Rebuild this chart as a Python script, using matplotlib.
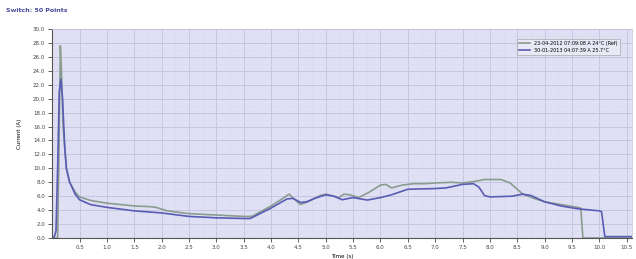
import matplotlib.pyplot as plt
from matplotlib.ticker import MultipleLocator

# reference curve (older measurement)
ref_t = [0.0, 0.10, 0.12, 0.15, 0.17, 0.20, 0.26, 0.32, 0.42, 0.5, 0.7, 1.0, 1.5, 1.8, 1.9,
         2.1, 2.5, 3.0, 3.5, 3.65, 4.0, 4.2, 4.33, 4.45, 4.54, 4.7, 4.9, 5.0, 5.24, 5.33,
         5.45, 5.6, 5.8, 6.0, 6.1, 6.2, 6.4, 6.6, 6.8, 7.0, 7.3, 7.5, 7.7, 7.9, 8.2, 8.37,
         8.5, 8.6, 8.8, 9.0, 9.3, 9.6, 9.66, 9.70, 10.6]
ref_v = [0.0, 0.0, 10.0, 27.6, 24.0, 16.0, 10.0, 8.0, 6.6, 5.9, 5.4, 5.0, 4.6, 4.5, 4.4,
         3.9, 3.5, 3.3, 3.1, 3.1, 4.6, 5.6, 6.3, 5.4, 4.8, 5.3, 6.1, 6.3, 5.8, 6.3,
         6.2, 5.8, 6.6, 7.6, 7.7, 7.2, 7.6, 7.8, 7.8, 7.9, 8.0, 7.9, 8.1, 8.4, 8.4, 7.9,
         7.0, 6.3, 5.7, 5.2, 4.8, 4.4, 4.3, 0.0, 0.0]

# newer measurement
new_t = [0.0, 0.04, 0.07, 0.10, 0.13, 0.16, 0.19, 0.23, 0.26, 0.32, 0.42, 0.5, 0.7, 1.0,
         1.5, 2.0, 2.5, 3.0, 3.5, 3.62, 4.0, 4.29, 4.4, 4.54, 4.65, 4.8, 5.0, 5.15, 5.3,
         5.5, 5.76, 6.0, 6.2, 6.5, 7.0, 7.2, 7.5, 7.7, 7.8, 7.9, 8.0, 8.4, 8.6, 8.75,
         9.0, 9.3, 9.6, 10.0, 10.04, 10.1, 10.6]
new_v = [0.0, 0.2, 1.0, 10.0, 21.0, 22.8, 20.0, 13.0, 10.0, 8.0, 6.3, 5.5, 4.8, 4.4,
         3.9, 3.6, 3.1, 2.9, 2.8, 2.8, 4.3, 5.6, 5.7, 5.1, 5.2, 5.7, 6.2, 6.0, 5.5,
         5.8, 5.45, 5.8, 6.2, 7.0, 7.1, 7.2, 7.7, 7.8, 7.3, 6.1, 5.9, 6.0, 6.3, 6.1,
         5.2, 4.6, 4.2, 3.9, 3.8, 0.2, 0.2]

labels = ["23-04-2012 07:09:08 A 24°C (Ref)", "30-01-2013 04:07:39 A 25.7°C"]

fig = plt.figure(figsize=(6.36, 2.59), dpi=100)
ax = fig.add_axes([0.082, 0.081, 0.912, 0.807])
ax.set_facecolor("#e0e0f5")

ax.plot(ref_t, ref_v, color="#8a9c8e", lw=1.2, label=labels[0])
ax.plot(new_t, new_v, color="#5a5cb4", lw=1.2, label=labels[1])

ax.set_xlim(0, 10.6)
ax.set_ylim(0, 30)
ax.xaxis.set_minor_locator(MultipleLocator(0.25))
ax.yaxis.set_minor_locator(MultipleLocator(1))
ax.set_xticks([x / 2 for x in range(1, 22)])
ax.set_xticklabels(["%.1f" % (x / 2) for x in range(1, 22)])
ax.set_yticks(range(0, 31, 2))
ax.set_yticklabels(["%.1f" % y for y in range(0, 31, 2)])
ax.grid(which="major", color="#c6c6e2", lw=0.7)
ax.grid(which="minor", color="#d8d8f0", lw=0.4)
ax.tick_params(which="major", labelsize=4, length=3, width=0.6, pad=2, colors="#444444")
ax.tick_params(which="minor", length=0)

for s in ["top", "right"]:
    ax.spines[s].set_color("#c0c0d8")
    ax.spines[s].set_linewidth(0.5)
for s in ["left", "bottom"]:
    ax.spines[s].set_color("#555555")
    ax.spines[s].set_linewidth(0.8)

ax.set_xlabel("Time (s)", fontsize=4, labelpad=3)
ax.set_ylabel("Current (A)", fontsize=4, labelpad=8)

leg = ax.legend(loc="upper right", fontsize=3.5, frameon=True, fancybox=False,
                bbox_to_anchor=(0.983, 0.965), handlelength=2.2, borderpad=0.5,
                labelspacing=0.3)
leg.get_frame().set_edgecolor("#999999")
leg.get_frame().set_linewidth(0.5)
leg.get_frame().set_facecolor("#ebebf8")

fig.text(0.01, 0.952, "Switch: 50 Points", fontsize=4.5, fontweight="bold", color="#4a4a9a")

fig.savefig("out.png", dpi=100)
